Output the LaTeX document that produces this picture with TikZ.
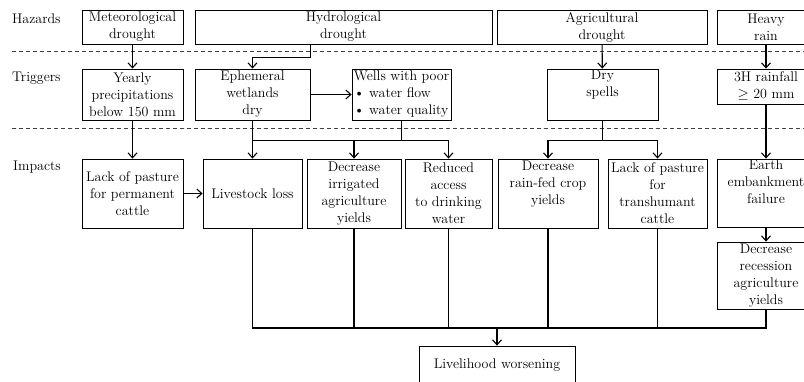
\documentclass[tikz,border=0pt]{standalone}
\usetikzlibrary{arrows.meta,positioning}

\begin{document}
\begin{tikzpicture}[x=1pt, y=-1pt, >={Straight Barb[length=5pt,width=9pt]},
	font=\fontsize{14}{17}\selectfont]
	\useasboundingbox (0,0) rectangle (804,381);
	\begin{scope}[every node/.style={anchor=west, inner sep=0pt}]
	\node (hazards) at (12,19) {Hazards};
	\node (triggers) at (12,78) {Triggers};
	\node (impacts) at (13,167) {Impacts};
	\end{scope}
	\begin{scope}[every path/.style={draw=black!75, dash pattern=on 4pt off 3pt, line width=0.7pt}]
	\path (12,51) -- (804,51);
	\path (12,128) -- (804,128);
	\end{scope}
	
	\begin{scope}[every node/.style={draw, rectangle, align=center, line width=0.8pt,
		inner sep=1pt, minimum height=34}]
	\node[minimum width=101] (meteo) at (132.5,27) {Meteorological\\drought};
	\node[minimum width=297] (hydro) at (343.5,27) {Hydrological\\drought};
	\node[minimum width=210] (agri) at (602,27) {Agricultural\\drought};
	\node[minimum width=98] (rain) at (766,27) {Heavy\\rain};
	\end{scope}
	\begin{scope}[every node/.style={draw, rectangle, align=center, line width=0.8pt,
		inner sep=1pt, minimum height=51}]
	\node[minimum width=101] (yearly) at (132.5,94.5) {Yearly\\precipitations\\below 150 mm};
	\node[minimum width=115] (wetlands) at (252.5,94.5) {Ephemeral\\wetlands\\dry};
	\node[minimum width=99, align=left] (wells) at (401.5,94.5) {Wells with poor\\\textbullet{} water flow\\\textbullet{} water quality};
	\node[minimum width=111] (dryspells) at (602.5,94.5) {Dry\\spells\\\strut};
	\node[minimum width=98, minimum height=35] (rainfall) at (766,86.5) {3H rainfall\\$\geq$ 20 mm};
	\end{scope}
	\begin{scope}[every node/.style={draw, rectangle, align=center, line width=0.8pt,
		inner sep=1pt, minimum height=69}]
	\node[minimum width=101] (pasture) at (132.5,193.5) {Lack of pasture\\for permanent\\cattle};
	\node[minimum width=99] (livestock) at (252.5,193.5) {Livestock loss};
	\node[minimum width=94] (irrigated) at (354,193.5) {Decrease\\irrigated\\agriculture\\yields};
	\node[minimum width=87] (drinking) at (448.5,193.5) {Reduced\\access\\to drinking\\water};
	\node[minimum width=100] (rainfed) at (548,193.5) {Decrease\\rain-fed crop\\yields\\\strut};
	\node[minimum width=99] (transhumant) at (657.5,193.5) {Lack of pasture\\for\\transhumant\\cattle};
	\node[minimum width=98, minimum height=68] (embankment) at (766,193) {Earth\\embankment\\failure\\\strut};
	\node[minimum width=98, minimum height=67] (recession) at (766,275.5) {Decrease\\recession\\agriculture\\yields};
	\node[minimum width=156, minimum height=38] (livelihood) at (497,365) {Livelihood worsening};
	\end{scope}
	
	\begin{scope}[every path/.style={draw=black, line width=1.1pt}]
	\path [->] (meteo) -- (yearly);
	\path [->] (hydro.south -| wetlands.east) -- ++(0,13) -| (wetlands.north);
	\path [->] (wetlands) -- (wells);
	\path [->] (agri) -- (dryspells);
	\path [->] (rain) -- (rainfall);
	\path [->] (yearly) -- (pasture);
	\path [->] (pasture) -- (livestock);
	\path [->] (wetlands) -- (livestock);
	\path (wells.south) -- ++(0,20) coordinate (hub);
	\path (wetlands.south |- hub) -- (hub);
	\path [->] (hub) -| (irrigated);
	\path [->] (hub) -| (drinking);
	\path (dryspells.south) -- ++(0,20) coordinate (split);
	\path [->] (split) -| (rainfed);
	\path [->] (split) -| (transhumant);
	\path [->] (rainfall) -- (embankment);
	\path [->] (embankment) -- (recession);
	\end{scope}
	\coordinate (join) at (497,328);
	\begin{scope}[every path/.style={draw=black, line width=1.1pt}]
	\path (livestock.south) |- (join);
	\path (irrigated.south) |- (join);
	\path (drinking.south) |- (join);
	\path (rainfed.south) |- (join);
	\path (transhumant.south) |- (join);
	\path (recession.south) |- (join);
	\path [->] (join) -- (livelihood);
	\end{scope}
\end{tikzpicture}
\end{document}
